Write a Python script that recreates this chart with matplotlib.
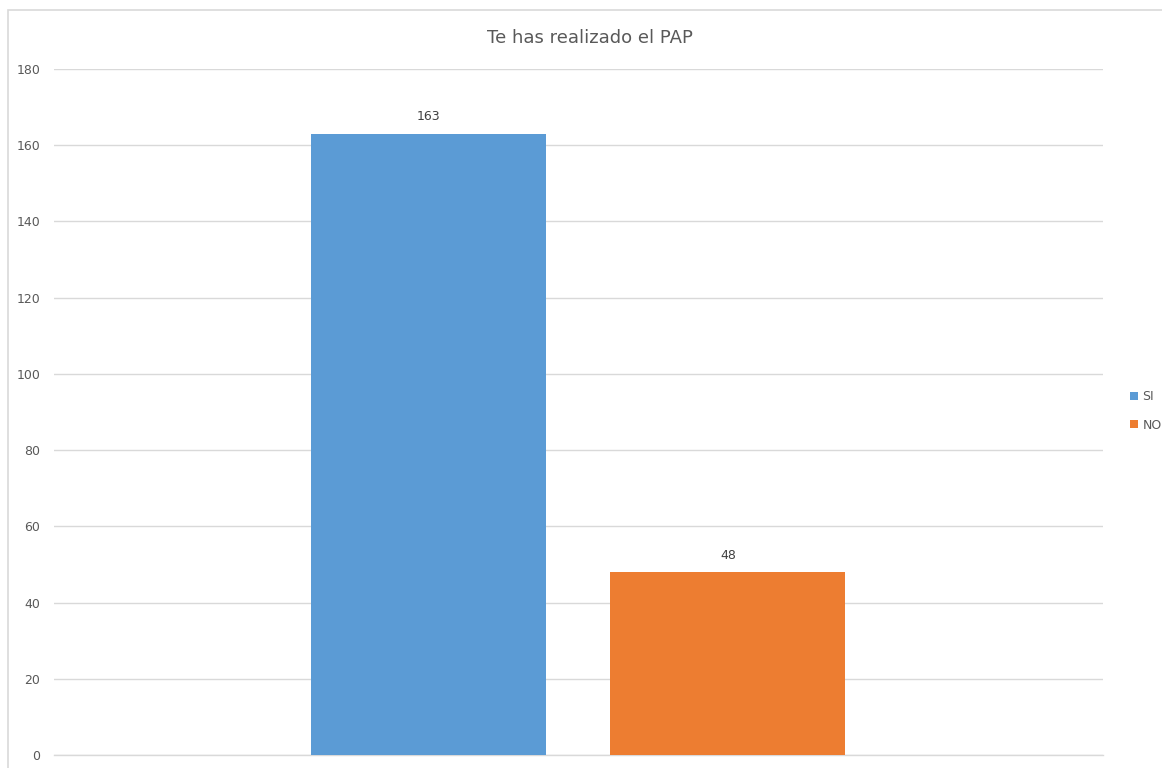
import matplotlib
matplotlib.use("Agg")
import matplotlib.pyplot as plt
from matplotlib.patches import Rectangle

title = "Te has realizado el PAP"
series = ["SI", "NO"]
values = [163, 48]
colors = ["#5B9BD5", "#ED7D31"]
yticks = [0, 20, 40, 60, 80, 100, 120, 140, 160, 180]

text_color = "#595959"
grid_color = "#D9D9D9"

fig = plt.figure(figsize=(11.62, 7.68), dpi=100)
fig.patch.set_facecolor("white")

# chart frame
fig.add_artist(Rectangle((8 / 1162, -0.1), 1.2, 1 - 10 / 768 + 0.1,
                         transform=fig.transFigure, fill=False,
                         edgecolor=grid_color, linewidth=1.2))

ax = fig.add_axes([54 / 1162, 13 / 768, (1103 - 54) / 1162, (755 - 69) / 768])

offsets = [-0.143, 0.1425]
width = 0.224
for name, val, col, off in zip(series, values, colors, offsets):
    ax.bar(off, val, width=width, color=col, label=name, zorder=3)
    ax.text(off, val + 2.7, str(val), ha="center", va="bottom",
            fontsize=9, color="#404040")

ax.set_xlim(-0.5, 0.5)
ax.set_ylim(0, 180)
ax.set_yticks(yticks)
ax.set_yticklabels([str(t) for t in yticks], fontsize=9, color=text_color)
ax.set_xticks([])
ax.tick_params(axis="y", length=0, pad=10)
ax.yaxis.grid(True, color=grid_color, linewidth=1, zorder=0)
for s in ["top", "right", "left"]:
    ax.spines[s].set_visible(False)
ax.spines["bottom"].set_color(grid_color)
ax.spines["bottom"].set_linewidth(1)

fig.text(590 / 1162, 1 - 38 / 768, title, ha="center", va="center",
         fontsize=13, color=text_color)

handles, labels = ax.get_legend_handles_labels()
leg = fig.legend(handles, labels, loc="center left",
                 bbox_to_anchor=(1125 / 1162, 1 - 411 / 768),
                 frameon=False, fontsize=9, handlelength=0.6, handleheight=0.6,
                 handletextpad=0.4, labelspacing=1.25, borderaxespad=0)
for t in leg.get_texts():
    t.set_color(text_color)

fig.savefig("out.png", dpi=100)
